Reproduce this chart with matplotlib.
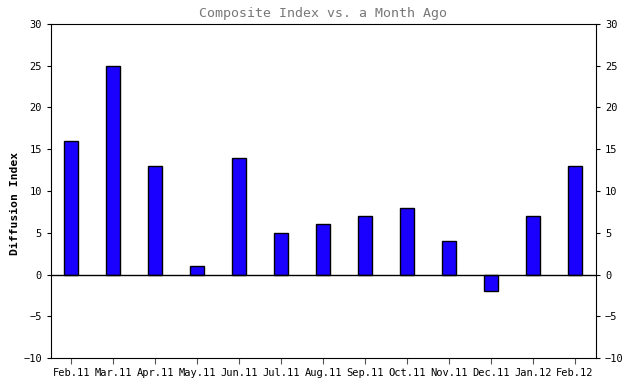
import matplotlib
matplotlib.use('Agg')
import matplotlib.pyplot as plt
import numpy as np

months = ['Feb.11', 'Mar.11', 'Apr.11', 'May.11', 'Jun.11', 'Jul.11', 'Aug.11',
          'Sep.11', 'Oct.11', 'Nov.11', 'Dec.11', 'Jan.12', 'Feb.12']
values = [16, 25, 13, 1, 14, 5, 6, 7, 8, 4, -2, 7, 13]
yticks = [-10, -5, 0, 5, 10, 15, 20, 25, 30]

plt.rcParams['font.family'] = 'DejaVu Sans Mono'

fig = plt.figure(figsize=(6.28, 3.92), dpi=100)
ax = fig.add_axes([0.0812, 0.0867, 0.8678, 0.8521])

x = np.arange(len(months))
ax.bar(x, values, width=0.33, color='#1a00ff', edgecolor='black', linewidth=1, zorder=3)
ax.axhline(0, color='black', linewidth=1, zorder=4)

ax.set_xlim(-0.48, 12.5)
ax.set_ylim(-10, 30)
ax.set_xticks(x)
ax.set_xticklabels(months, fontsize=7.5)
ax.set_yticks(yticks)
ax.tick_params(axis='y', labelsize=7.5, length=3, right=True, labelright=True)
ax.tick_params(axis='x', length=4, color='#555555', pad=3)

ax.set_ylabel('Diffusion Index', fontsize=8.2, fontweight='bold')
ax.yaxis.set_label_coords(-0.056, 0.464)
ax.set_title('Composite Index vs. a Month Ago', fontsize=9.5, color='#777777', pad=5)

plt.savefig('out.png', dpi=100)
